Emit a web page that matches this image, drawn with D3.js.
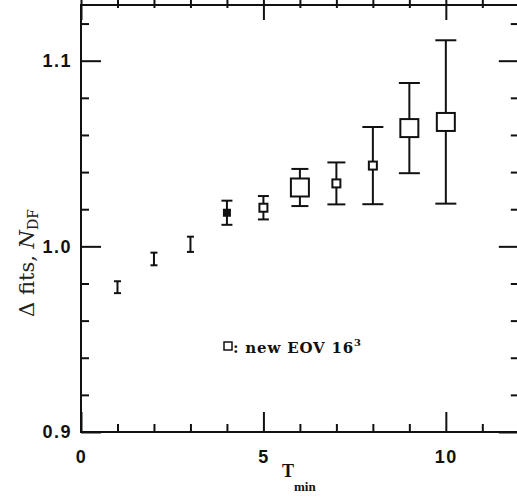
<!DOCTYPE html>
<html>
<head>
<meta charset="utf-8">
<script src="https://cdn.jsdelivr.net/npm/d3@7/dist/d3.min.js"></script>
<style>
  body { margin: 0; background: #fff; }
  .axis path { display: none; }
  .axis line { stroke: #111; stroke-width: 2px; }
  .axis text { font-family: "Liberation Sans", Arial, sans-serif; font-weight: bold; font-size: 18px; fill: #111; letter-spacing: 1.5px; }
</style>
</head>
<body>
<div id="chart"></div>
<script>
// values
var tmin   = [1, 2, 3, 4, 5, 6, 7, 8, 9, 10];
var fitVal = [0.978, 0.9932, 1.0011, 1.0181, 1.0208, 1.0317, 1.0339, 1.0435, 1.0637, 1.067];
var fitErr = [0.0032, 0.0034, 0.0041, 0.0065, 0.0063, 0.0100, 0.0113, 0.0208, 0.0243, 0.0440];
var marker = ["none", "none", "none", "filled", "small", "big", "small", "small", "big", "big"];

var xTicks = [0, 5, 10];
var xMinor = [1, 2, 3, 4, 6, 7, 8, 9, 11];
var yTicks = [0.9, 1.0, 1.1];
var yMinor = [0.92, 0.94, 0.96, 0.98, 1.02, 1.04, 1.06, 1.08, 1.12];

// styling
var markSize = {none: 0, filled: 6, small: 8, big: 18};
var capWidth = [7, 7, 7, 11, 11, 17, 18, 21, 21, 21];

var W = 517, H = 499;
var xDom = [0, 12], yDom = [0.9, 1.13];
var x = d3.scaleLinear().domain(xDom).range([81, 518.8]);
var y = d3.scaleLinear().domain(yDom).range([432, 5]);

var svg = d3.select("#chart").append("svg").attr("width", W).attr("height", H);

// frame
svg.append("rect")
  .attr("x", x(xDom[0])).attr("y", y(yDom[1]))
  .attr("width", x(xDom[1]) - x(xDom[0])).attr("height", y(yDom[0]) - y(yDom[1]))
  .style("fill", "none").style("stroke", "#111").style("stroke-width", "2px");

// ticks, all pointing inward
function addAxis(gen, tr) {
  return svg.append("g").attr("class", "axis").attr("transform", tr).call(gen);
}
var bottom = "translate(0," + y(yDom[0]) + ")", top = "translate(0," + y(yDom[1]) + ")";
var left = "translate(" + x(xDom[0]) + ",0)", right = "translate(" + x(xDom[1]) + ",0)";

addAxis(d3.axisBottom(x).tickValues(xTicks).tickSize(-20).tickPadding(18).tickFormat(d3.format("d")), bottom);
addAxis(d3.axisBottom(x).tickValues(xMinor).tickSize(-8).tickFormat(""), bottom);
addAxis(d3.axisTop(x).tickValues(xTicks).tickSize(-20).tickFormat(""), top);
addAxis(d3.axisTop(x).tickValues(xMinor).tickSize(-8).tickFormat(""), top);

addAxis(d3.axisLeft(y).tickValues(yTicks).tickSize(-20).tickPadding(9).tickFormat(d3.format(".1f")), left);
addAxis(d3.axisLeft(y).tickValues(yMinor).tickSize(-8).tickFormat(""), left);
addAxis(d3.axisRight(y).tickValues(yTicks).tickSize(-20).tickFormat(""), right);
addAxis(d3.axisRight(y).tickValues(yMinor).tickSize(-8).tickFormat(""), right);

// error bars
var pts = tmin.map(function(t, i) { return {t: t, v: fitVal[i], e: fitErr[i], m: marker[i], cw: capWidth[i]}; });
var g = svg.append("g").style("stroke", "#111").style("stroke-width", "2px");

var bars = g.selectAll("g.pt").data(pts).enter().append("g").attr("class", "pt");
bars.append("line")
  .attr("x1", function(d) { return x(d.t); }).attr("x2", function(d) { return x(d.t); })
  .attr("y1", function(d) { return y(d.v - d.e); }).attr("y2", function(d) { return y(d.v + d.e); });
bars.append("line")
  .attr("x1", function(d) { return x(d.t) - d.cw / 2; }).attr("x2", function(d) { return x(d.t) + d.cw / 2; })
  .attr("y1", function(d) { return y(d.v + d.e); }).attr("y2", function(d) { return y(d.v + d.e); });
bars.append("line")
  .attr("x1", function(d) { return x(d.t) - d.cw / 2; }).attr("x2", function(d) { return x(d.t) + d.cw / 2; })
  .attr("y1", function(d) { return y(d.v - d.e); }).attr("y2", function(d) { return y(d.v - d.e); });

// square markers
bars.filter(function(d) { return d.m != "none"; }).append("rect")
  .attr("x", function(d) { return x(d.t) - markSize[d.m] / 2; })
  .attr("y", function(d) { return y(d.v) - markSize[d.m] / 2; })
  .attr("width", function(d) { return markSize[d.m]; })
  .attr("height", function(d) { return markSize[d.m]; })
  .style("fill", function(d) { return d.m == "filled" ? "#111" : "#fff"; });

// legend
svg.append("rect").attr("x", 224).attr("y", 342).attr("width", 8).attr("height", 8)
  .style("fill", "none").style("stroke", "#111").style("stroke-width", "1.5px");
var leg = svg.append("text").attr("x", 233).attr("y", 353)
  .style("font-family", "'DejaVu Serif', serif").style("font-weight", "bold")
  .style("font-size", "15px").style("fill", "#111").style("letter-spacing", "0.8px");
leg.append("tspan").text(": new EOV 16");
leg.append("tspan").attr("dy", -7).style("font-size", "10px").text("3");

// axis titles
var xt = svg.append("text").attr("x", 282).attr("y", 477)
  .style("font-family", "'Liberation Serif', serif").style("font-weight", "bold").style("fill", "#111");
xt.append("tspan").style("font-size", "18px").text("T");
xt.append("tspan").attr("dy", 14).style("font-size", "13px").text("min");

var yt = svg.append("text").attr("transform", "translate(34,263) rotate(-90)")
  .attr("text-anchor", "middle")
  .style("font-family", "'DejaVu Serif', serif").style("font-size", "21px").style("fill", "#222");
yt.append("tspan").text("\u0394 fits, ");
yt.append("tspan").style("font-style", "italic").text("N");
yt.append("tspan").attr("dy", 4).style("font-size", "14px").text("DF");
</script>
</body>
</html>
